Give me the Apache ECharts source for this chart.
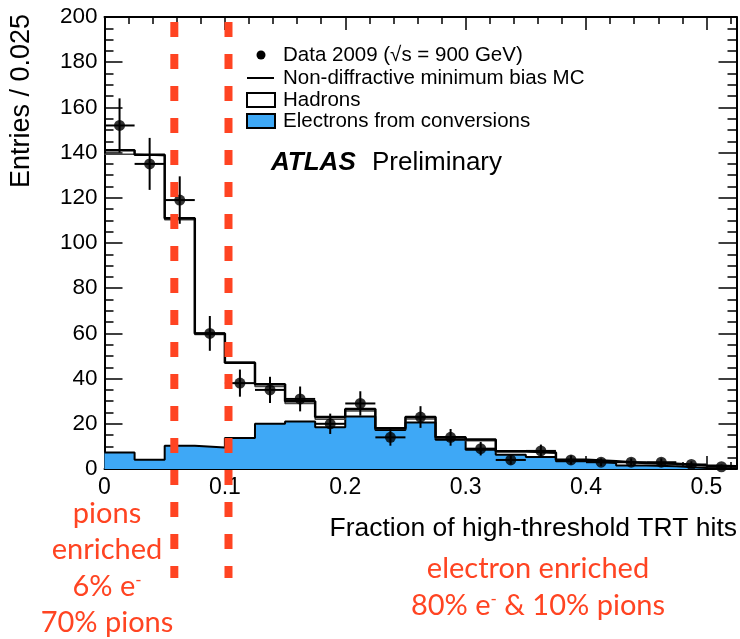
<!DOCTYPE html>
<html lang="en">
<head>
    <meta charset="UTF-8">
    <title>Fraction of high-threshold TRT hits</title>
    <style>html, body { margin: 0; padding: 0; background: #fff; }</style>
</head>
<body>

    <script src="https://cdn.jsdelivr.net/npm/echarts@6.0.0/dist/echarts.min.js"></script>

    <div id="main" style="width: 740px;height:639px;"></div>

    <script>
        // bins of 0.025, left edges
        var binWidth = 0.025;
        var binStart = [0, 0.025, 0.05, 0.075, 0.1, 0.125, 0.15, 0.175, 0.2, 0.225, 0.25,
                        0.275, 0.3, 0.325, 0.35, 0.375, 0.4, 0.425, 0.45, 0.475, 0.5];

        // data 2009 points and their errors
        var dataY   = [152, 135, 119, 60, 38, 35, 31, 20, 29, 14, 23, 14, 9, 4, 8, 4, 3, 3, 3, 2, 1];
        var dataErr = [12, 11.5, 10.5, 7.7, 6, 5.8, 5.5, 4.5, 5.4, 3.7, 4.8, 3.7, 3, 2, 2.8, 2, 1.7, 1.7, 1.7, 1.4, 1];

        // non-diffractive MC (total)
        var mcTotal = [141, 139, 111, 60, 47, 37.5, 30, 23, 26.5, 18, 23, 14, 13, 7.8, 7.3, 4.1, 3.4, 2.6, 2.3, 1.6, 1.2];

        // stack: electrons from conversions + hadrons
        var electrons = [7.3, 4.1, 10.3, 9.5, 13.7, 20, 21, 18.5, 23.2, 17.3, 20.6, 12.9, 8.5, 6.3, 5.3, 3.4, 2.6, 1.6, 1.2, 0.4, 0.2];
        var hadrons   = [132, 134.5, 100, 50, 33.5, 16.5, 8, 3.5, 2.5, 0.5, 1.5, 0.8, 4, 1.3, 1.7, 0.6, 0.6, 0.9, 1, 1.1, 0.9];

        // red cut lines
        var cutLines = [0.058, 0.103];

        var BLUE = '#3ea8f6';
        var RED = '#ff4422';
        var FONT = 'Liberation Sans';

        // histogram -> step points (left edges + last right edge)
        function steps(vals) {
            var pts = binStart.map(function (x, i) { return [x, vals[i]]; });
            pts.push([binStart[binStart.length - 1] + binWidth, vals[vals.length - 1]]);
            return pts;
        }

        // hadrons sit on top of the electrons
        var hadronTop = hadrons.map(function (h, i) { return h + electrons[i]; });

        var chart = echarts.init(document.getElementById('main'));

        var tickStyle = {color: '#000', width: 1.5};
        function xAx(pos, labels) {
            return {
                type: 'value', position: pos, min: 0, max: 0.525, interval: 0.1,
                axisLine: {show: true, onZero: false, lineStyle: {color: '#000', width: 2}},
                axisTick: {inside: true, length: 13, lineStyle: tickStyle},
                minorTick: {show: true, splitNumber: 5, length: 7, lineStyle: tickStyle},
                axisLabel: {show: labels, showMaxLabel: false, fontSize: 23, color: '#000', fontFamily: FONT, margin: 7},
                splitLine: {show: false}
            };
        }
        function yAx(pos, labels) {
            return {
                type: 'value', position: pos, min: 0, max: 200, interval: 20,
                axisLine: {show: true, onZero: false, lineStyle: {color: '#000', width: 2}},
                axisTick: {inside: true, length: 18, lineStyle: tickStyle},
                minorTick: {show: true, splitNumber: 4, length: 9, lineStyle: tickStyle},
                axisLabel: {show: labels, fontSize: 22.5, color: '#000', fontFamily: FONT, margin: 7},
                splitLine: {show: false}
            };
        }

        var option = {
            animation: false,
            textStyle: {fontFamily: FONT},
            grid: {left: 104.5, right: 3.5, top: 17, bottom: 170},
            xAxis: [xAx('bottom', true), xAx('top', false)],
            yAxis: [yAx('left', true), yAx('right', false)],
            series: [
                {
                    name: 'Electrons from conversions', type: 'line', step: 'end',
                    data: steps(electrons), symbol: 'none',
                    lineStyle: {color: '#000', width: 2},
                    areaStyle: {color: BLUE, opacity: 1},
                    z: 2
                },
                {
                    name: 'Hadrons', type: 'line', step: 'end',
                    data: steps(hadronTop), symbol: 'none',
                    lineStyle: {color: '#444', width: 1.5},
                    z: 3
                },
                {
                    name: 'Non-diffractive minimum bias MC', type: 'line', step: 'end',
                    data: steps(mcTotal), symbol: 'none',
                    lineStyle: {color: '#000', width: 2.5},
                    z: 4
                },
                {
                    // error bars
                    type: 'custom',
                    data: binStart.map(function (x, i) { return [x + binWidth / 2, dataY[i], dataErr[i]]; }),
                    encode: {x: 0, y: 1},
                    renderItem: function (params, api) {
                        var x = api.value(0), y = api.value(1), e = api.value(2);
                        var c = api.coord([x, y]);
                        var lo = api.coord([x - binWidth / 2, y - e]);
                        var hi = api.coord([x + binWidth / 2, y + e]);
                        var st = {stroke: '#000', lineWidth: 2};
                        return {type: 'group', children: [
                            {type: 'line', shape: {x1: c[0], y1: hi[1], x2: c[0], y2: lo[1]}, style: st},
                            {type: 'line', shape: {x1: lo[0], y1: c[1], x2: hi[0], y2: c[1]}, style: st}
                        ]};
                    },
                    z: 5
                },
                {
                    name: 'Data 2009', type: 'scatter',
                    data: binStart.map(function (x, i) { return [x + binWidth / 2, dataY[i]]; }),
                    symbolSize: 11, itemStyle: {color: '#000'},
                    z: 6
                }
            ]
        };
        chart.setOption(option);

        function txt(x, y, text, size, extra) {
            var st = {text: text, font: size + 'px "' + FONT + '"', fill: '#000', align: 'left', verticalAlign: 'middle'};
            for (var k in extra) st[k] = extra[k];
            return {type: 'text', x: x, y: y, style: st, z: 50};
        }
        function redTxt(x, y, text) {
            return {
                type: 'text', x: x, y: y, z: 50,
                style: {
                    text: text, font: '29px Lato', fill: RED, align: 'center', verticalAlign: 'middle',
                    rich: {s: {font: '17px Lato', fill: RED, verticalAlign: 'top'}}
                }
            };
        }

        var g = [
            // legend
            {type: 'circle', shape: {cx: 261, cy: 55, r: 4.5}, style: {fill: '#000'}, z: 50},
            {type: 'line', shape: {x1: 247, y1: 78, x2: 274, y2: 78}, style: {stroke: '#000', lineWidth: 2}, z: 50},
            {type: 'rect', shape: {x: 247, y: 93, width: 28, height: 14}, style: {fill: '#fff', stroke: '#000', lineWidth: 2}, z: 50},
            {type: 'rect', shape: {x: 247, y: 114, width: 28, height: 14}, style: {fill: BLUE, stroke: '#000', lineWidth: 2}, z: 50},
            txt(283, 55, 'Data 2009 (\u221As = 900 GeV)', 20.5),
            txt(283, 78, 'Non-diffractive minimum bias MC', 20.5),
            txt(283, 100, 'Hadrons', 20.5),
            txt(283, 121, 'Electrons from conversions', 20.5),
            // ATLAS label
            txt(271, 163, 'ATLAS', 26, {font: 'italic bold 26px "' + FONT + '"'}),
            txt(372, 163, 'Preliminary', 26),
            // axis titles
            {type: 'text', x: 22, y: 101, rotation: Math.PI / 2, z: 50,
             style: {text: 'Entries / 0.025', font: '27px "' + FONT + '"', fill: '#000', align: 'center', verticalAlign: 'middle'}},
            txt(737, 529, 'Fraction of high-threshold TRT hits', 26.5, {align: 'right'}),
            // red annotations
            redTxt(107, 514, 'pions'),
            redTxt(107, 550, 'enriched'),
            redTxt(107, 587, '6% e{s|-}'),
            redTxt(107, 623, '70% pions'),
            redTxt(538, 569, 'electron enriched'),
            redTxt(538, 606, '80% e{s|-} & 10% pions')
        ];

        // red dashed cut lines placed through the x scale
        cutLines.forEach(function (v) {
            var px = chart.convertToPixel({xAxisIndex: 0}, v);
            g.push({type: 'line', z: 100, shape: {x1: px, y1: 22, x2: px, y2: 578},
                    style: {stroke: RED, lineWidth: 8, lineDash: [15, 17]}});
        });

        chart.setOption({graphic: g});
    </script>

</body>
</html>
